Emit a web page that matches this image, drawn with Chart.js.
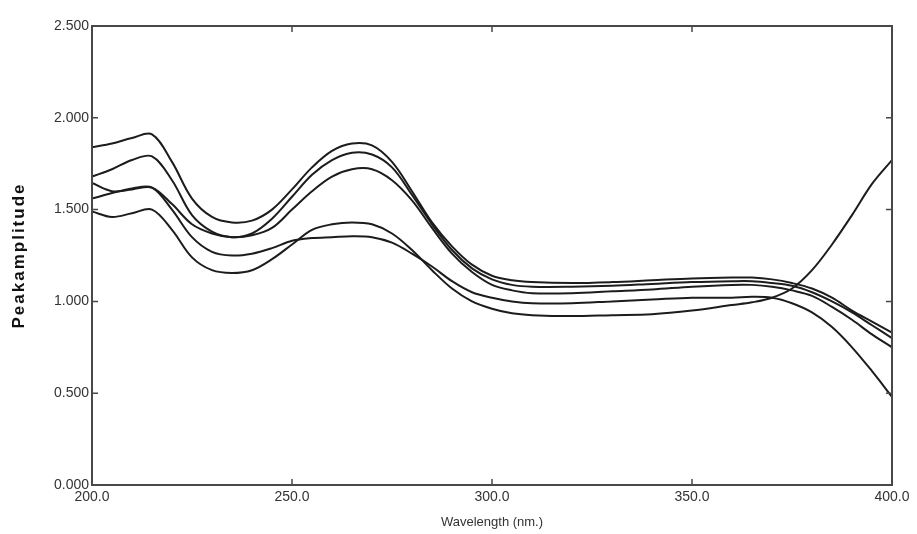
<!DOCTYPE html>
<html>
<head>
<meta charset="utf-8">
<script src="https://cdn.jsdelivr.net/npm/chart.js@4"></script>
<style>
  html, body { margin: 0; padding: 0; background: #fff; }
  #wrap { width: 917px; height: 534px; }
</style>
</head>
<body>
<div id="wrap"><canvas id="spectra"></canvas></div>
<script>
// wavelengths (nm) and peak amplitude of five spectra
const wavelengths = [200, 205, 210, 215, 220, 225, 230, 235, 240, 245, 250, 255, 260, 265, 270, 275, 280, 285, 290, 295,
                     300, 305, 310, 320, 330, 340, 350, 360, 365, 370, 375, 380, 385, 390, 395, 400];
const specA = [1.84, 1.86, 1.89, 1.91, 1.76, 1.56, 1.46, 1.43, 1.44, 1.50, 1.61, 1.73, 1.82, 1.86, 1.85, 1.76, 1.60, 1.43, 1.30, 1.20,
               1.14, 1.115, 1.105, 1.10, 1.105, 1.115, 1.125, 1.13, 1.13, 1.12, 1.10, 1.07, 1.02, 0.95, 0.89, 0.83];
const specB = [1.68, 1.72, 1.77, 1.79, 1.66, 1.47, 1.38, 1.35, 1.37, 1.45, 1.57, 1.69, 1.77, 1.81, 1.80, 1.73, 1.58, 1.42, 1.28, 1.18,
               1.12, 1.09, 1.08, 1.08, 1.085, 1.095, 1.105, 1.11, 1.11, 1.10, 1.085, 1.05, 1.00, 0.94, 0.87, 0.80];
const specC = [1.645, 1.60, 1.61, 1.62, 1.53, 1.42, 1.37, 1.35, 1.36, 1.40, 1.50, 1.60, 1.68, 1.72, 1.72, 1.66, 1.55, 1.40, 1.26, 1.16,
               1.09, 1.06, 1.045, 1.045, 1.055, 1.065, 1.08, 1.09, 1.09, 1.08, 1.06, 1.03, 0.97, 0.90, 0.82, 0.75];
const specD = [1.56, 1.59, 1.615, 1.62, 1.50, 1.35, 1.27, 1.25, 1.26, 1.29, 1.33, 1.345, 1.35, 1.355, 1.35, 1.32, 1.26, 1.19, 1.11, 1.05,
               1.02, 1.00, 0.99, 0.99, 1.00, 1.01, 1.02, 1.02, 1.025, 1.02, 0.99, 0.94, 0.86, 0.75, 0.62, 0.48];
const specE = [1.49, 1.46, 1.48, 1.50, 1.39, 1.24, 1.17, 1.155, 1.17, 1.23, 1.31, 1.39, 1.42, 1.43, 1.42, 1.37, 1.28, 1.17, 1.07, 1.00,
               0.96, 0.935, 0.925, 0.92, 0.925, 0.93, 0.95, 0.98, 0.995, 1.02, 1.07, 1.17, 1.31, 1.47, 1.64, 1.77];

const xTitle = 'Wavelength (nm.)';
const yTitle = 'Peakamplitude';

const toPoints = vals => vals.map((v, i) => ({ x: wavelengths[i], y: v }));

// box round the plot, short inward ticks on all four sides, spaced y title
const framePlugin = {
    id: 'frame',
    afterDraw(chart) {
        const { ctx, chartArea: a, scales: { x, y } } = chart;
        ctx.save();
        ctx.strokeStyle = '#484848';
        ctx.lineWidth = 2;
        ctx.strokeRect(a.left, a.top, a.right - a.left, a.bottom - a.top);
        ctx.lineWidth = 1.5;
        ctx.beginPath();
        y.ticks.forEach(t => {
            const py = y.getPixelForValue(t.value);
            ctx.moveTo(a.left, py); ctx.lineTo(a.left + 6, py);
            ctx.moveTo(a.right, py); ctx.lineTo(a.right - 6, py);
        });
        x.ticks.forEach(t => {
            const px = x.getPixelForValue(t.value);
            ctx.moveTo(px, a.bottom); ctx.lineTo(px, a.bottom - 6);
            ctx.moveTo(px, a.top); ctx.lineTo(px, a.top + 6);
        });
        ctx.stroke();

        ctx.translate(19, (a.top + a.bottom) / 2);
        ctx.rotate(-Math.PI / 2);
        ctx.font = 'bold 17px "Liberation Sans", Arial, sans-serif';
        ctx.letterSpacing = '2px';
        ctx.fillStyle = '#111';
        ctx.textAlign = 'center';
        ctx.textBaseline = 'middle';
        ctx.fillText(yTitle, 0, 0);
        ctx.restore();
    }
};

const lineStyle = {
    borderColor: '#1c1c1c',
    borderWidth: 2,
    pointRadius: 0,
    fill: false,
    tension: 0.35
};

const ctx = document.getElementById('spectra').getContext('2d');
const spectraChart = new Chart(ctx, {
    type: 'line',
    data: {
        datasets: [specA, specB, specC, specD, specE].map((s, i) => ({
            label: 'Spectrum ' + (i + 1),
            data: toPoints(s),
            ...lineStyle
        }))
    },
    options: {
        responsive: true,
        maintainAspectRatio: false,
        animation: false,
        layout: { padding: { left: 0, top: 26, right: 25, bottom: 0 } },
        plugins: {
            legend: { display: false },
            tooltip: { enabled: false }
        },
        scales: {
            x: {
                type: 'linear',
                min: 200,
                max: 400,
                grid: { display: false, drawTicks: false },
                border: { display: false },
                ticks: {
                    stepSize: 50,
                    autoSkip: false,
                    maxRotation: 0,
                    padding: 4,
                    color: '#333',
                    font: { family: '"Liberation Sans", Arial, sans-serif', size: 14 },
                    callback: v => v.toFixed(1)
                },
                title: {
                    display: true,
                    text: xTitle,
                    color: '#333',
                    font: { family: '"Liberation Sans", Arial, sans-serif', size: 13 },
                    padding: { top: 0, bottom: 4 }
                },
                afterFit: s => { s.height = 49; }
            },
            y: {
                min: 0,
                max: 2.5,
                grid: { display: false, drawTicks: false },
                border: { display: false },
                ticks: {
                    stepSize: 0.5,
                    padding: 3,
                    color: '#333',
                    font: { family: '"Liberation Sans", Arial, sans-serif', size: 14 },
                    callback: v => v.toFixed(3)
                },
                afterFit: s => { s.width = 92; }
            }
        }
    },
    plugins: [framePlugin]
});
</script>
</body>
</html>
